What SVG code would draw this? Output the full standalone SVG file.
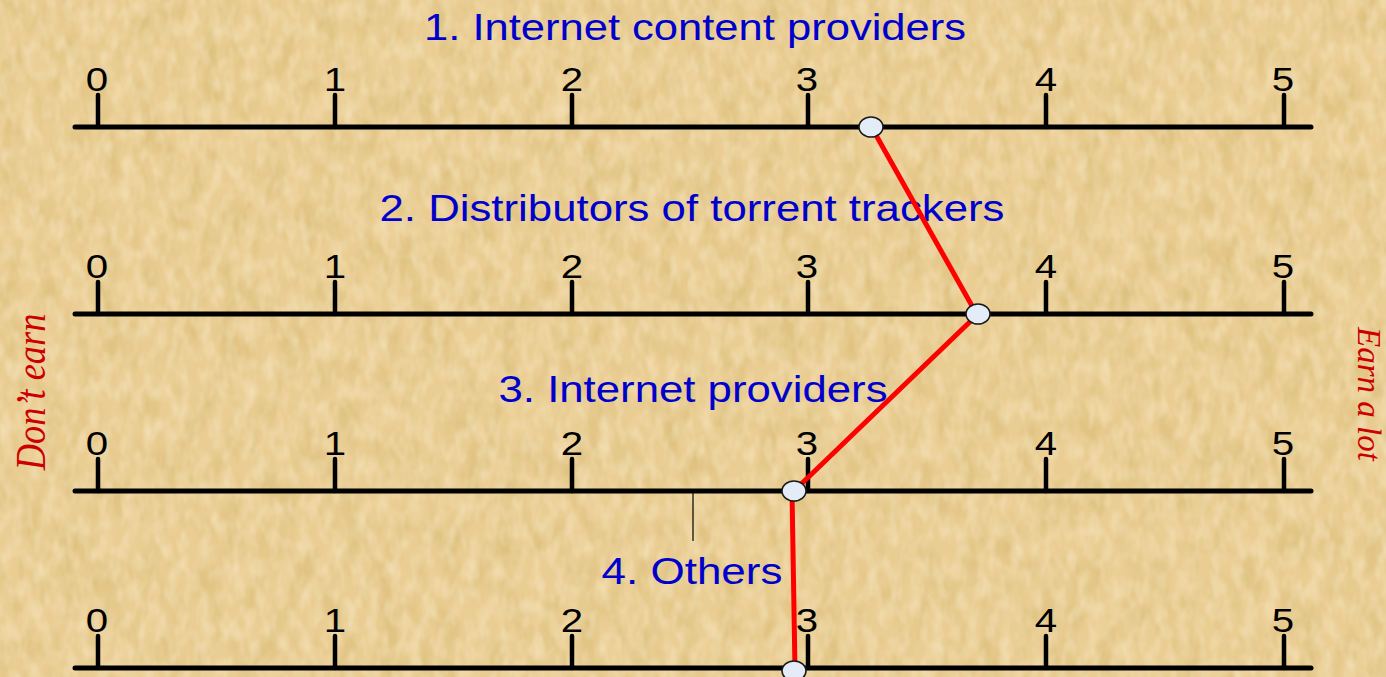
<svg xmlns="http://www.w3.org/2000/svg" width="1386" height="677" viewBox="0 0 1386 677">
<style>
.axis{stroke:#000;stroke-width:5;stroke-linecap:round;fill:none}
.tick{stroke:#000;stroke-width:4.5;stroke-linecap:round;fill:none}
.digit{font-family:"Liberation Sans",Arial,sans-serif;font-size:33px;fill:#000;text-anchor:middle}
.title{font-family:"Liberation Sans",Arial,sans-serif;font-size:37px;fill:#0000CC;text-anchor:middle}
.side{font-family:"Liberation Serif","Times New Roman",serif;font-style:italic;font-size:35px;fill:#CC0000;text-anchor:middle}
.link{stroke:#FF0000;stroke-width:5;stroke-linecap:round;fill:none}
.dot{fill:#E4ECF8;stroke:#1a1a1a;stroke-width:1.6}
</style>
<defs>
<filter id="papyrus" x="0" y="0" width="100%" height="100%" filterUnits="userSpaceOnUse">
<feTurbulence type="fractalNoise" baseFrequency="0.05 0.025" numOctaves="3" seed="7" result="n"/>
<feColorMatrix in="n" type="matrix" values="0 0 0 0 0.66  0 0 0 0 0.48  0 0 0 0 0.16  1.3 0 0 0 -0.55"/>
</filter>
<filter id="papyrus2" x="0" y="0" width="100%" height="100%" filterUnits="userSpaceOnUse">
<feTurbulence type="fractalNoise" baseFrequency="0.09 0.05" numOctaves="2" seed="21" result="n"/>
<feColorMatrix in="n" type="matrix" values="0 0 0 0 1  0 0 0 0 0.93  0 0 0 0 0.75  1.3 0 0 0 -0.5"/>
</filter>
<g id="ticks">
<line class="tick" x1="98" y1="0" x2="98" y2="-32"/>
<line class="tick" x1="335" y1="0" x2="335" y2="-32"/>
<line class="tick" x1="572" y1="0" x2="572" y2="-32"/>
<line class="tick" x1="808" y1="0" x2="808" y2="-32"/>
<line class="tick" x1="1046" y1="0" x2="1046" y2="-32"/>
<line class="tick" x1="1284" y1="0" x2="1284" y2="-32"/>
<line class="axis" x1="75" y1="0" x2="1311" y2="0"/>
<text class="digit" transform="translate(97,-36) scale(1.22,1)">0</text>
<text class="digit" transform="translate(335,-36) scale(1.22,1)">1</text>
<text class="digit" transform="translate(572,-36) scale(1.22,1)">2</text>
<text class="digit" transform="translate(807,-36) scale(1.22,1)">3</text>
<text class="digit" transform="translate(1046,-36) scale(1.22,1)">4</text>
<text class="digit" transform="translate(1283,-36) scale(1.22,1)">5</text>
</g>
</defs>
<g id="background">
<rect x="0" y="0" width="1386" height="677" fill="#EACD93"/>
<rect x="0" y="0" width="1386" height="677" filter="url(#papyrus)"/>
<rect x="0" y="0" width="1386" height="677" filter="url(#papyrus2)" opacity="0.6"/>
</g>
<g id="side-labels">
<text class="side" transform="translate(45,392) rotate(-90) scale(1.04,1.22)">Don’t earn</text>
<text class="side" style="font-size:33px" transform="translate(1358,394) rotate(90)">Earn a lot</text>
</g>
<g id="scale-1">
<use href="#ticks" transform="translate(0,127)"/>
<text class="title" x="695" y="40" textLength="542" lengthAdjust="spacingAndGlyphs">1. Internet content providers</text>
</g>
<g id="scale-2">
<use href="#ticks" transform="translate(0,314)"/>
<text class="title" x="692" y="221" textLength="625" lengthAdjust="spacingAndGlyphs">2. Distributors of torrent trackers</text>
</g>
<g id="scale-3">
<use href="#ticks" transform="translate(0,491)"/>
<line x1="693" y1="491" x2="693" y2="541" stroke="#000" stroke-width="1.2"/>
<text class="title" x="693" y="402" textLength="389" lengthAdjust="spacingAndGlyphs">3. Internet providers</text>
</g>
<g id="scale-4">
<use href="#ticks" transform="translate(0,668)"/>
<text class="title" x="692" y="584" textLength="181" lengthAdjust="spacingAndGlyphs">4. Others</text>
</g>
<g id="connectors">
<line class="link" x1="872" y1="128" x2="976" y2="313"/>
<line class="link" x1="977" y1="315" x2="795" y2="490"/>
<line class="link" x1="792" y1="491" x2="795" y2="670"/>
</g>
<g id="point-1"><ellipse class="dot" cx="871" cy="127" rx="12" ry="10"/></g>
<g id="point-2"><ellipse class="dot" cx="978" cy="314" rx="12" ry="10"/></g>
<g id="point-3"><ellipse class="dot" cx="794" cy="491" rx="12" ry="10"/></g>
<g id="point-4"><ellipse class="dot" cx="794" cy="671" rx="12" ry="10"/></g>
</svg>
